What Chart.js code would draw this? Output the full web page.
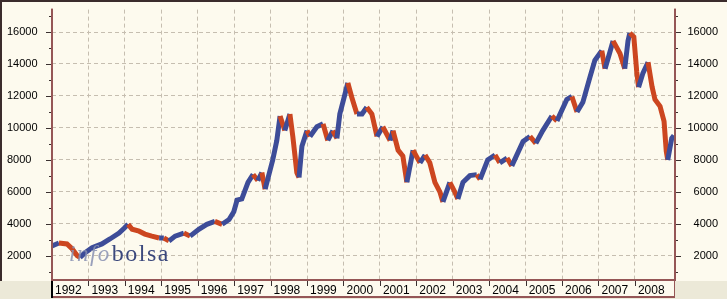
<!DOCTYPE html>
<html>
<head>
<meta charset="utf-8">
<script src="https://cdn.jsdelivr.net/npm/chart.js@4.4.0/dist/chart.umd.min.js"></script>
<style>
html, body { margin: 0; padding: 0; background: #ECE9D8; }
canvas { display: block; }
</style>
</head>
<body>
<canvas id="indexChart" width="727" height="299"></canvas>
<script>
// index level (year as decimal, close)
var dates = [
    1992.00, 1992.19, 1992.41, 1992.55, 1992.69, 1992.77, 1992.91,
    1993.10, 1993.37, 1993.59, 1993.84, 1993.98,
    1994.09, 1994.20, 1994.39, 1994.55, 1994.74, 1994.94,
    1995.07, 1995.21, 1995.38, 1995.62, 1995.79,
    1996.03, 1996.25, 1996.47, 1996.67, 1996.86, 1996.99,
    1997.08, 1997.21, 1997.38, 1997.52, 1997.65, 1997.76, 1997.85,
    1998.06, 1998.17, 1998.26, 1998.39, 1998.53, 1998.61, 1998.72, 1998.78, 1998.86,
    1999.00, 1999.08, 1999.27, 1999.44, 1999.57, 1999.71, 1999.82, 1999.90, 1999.99,
    2000.12, 2000.23, 2000.37, 2000.51, 2000.64, 2000.78, 2000.92,
    2001.08, 2001.28, 2001.36, 2001.50, 2001.63, 2001.74, 2001.91,
    2002.10, 2002.24, 2002.37, 2002.51, 2002.65, 2002.73, 2002.92,
    2003.06, 2003.14, 2003.28, 2003.47, 2003.66, 2003.75, 2003.96,
    2004.16, 2004.29, 2004.49, 2004.62, 2004.93,
    2005.12, 2005.28, 2005.47, 2005.72, 2005.86,
    2006.13, 2006.27, 2006.41, 2006.57, 2006.76, 2006.90,
    2007.09, 2007.18, 2007.31, 2007.40, 2007.59, 2007.72, 2007.81, 2007.86, 2007.97,
    2008.05, 2008.10, 2008.22, 2008.36, 2008.47, 2008.55, 2008.69, 2008.80, 2008.86, 2008.90, 2009.01, 2009.07
];
var closes = [
    2610, 2790, 2730, 2430, 2000, 1880, 2180,
    2490, 2730, 3040, 3410, 3710,
    3960, 3650, 3530, 3350, 3220, 3100,
    3100, 2920, 3220, 3410, 3220,
    3650, 3960, 4140, 3960, 4260, 4750,
    5480, 5550, 6590, 7080, 6700, 7200, 6160,
    8000, 9210, 10740, 9830, 10870, 9460, 7200, 6890, 8850,
    9830, 9460, 10070, 10250, 9210, 9830, 9340, 10870, 11660,
    12820, 11900, 10870, 10870, 11290, 10870, 9460,
    10070, 9210, 9830, 8600, 8240, 6590, 8600,
    7810, 8300, 7810, 6590, 5970, 5360, 6590,
    5970, 5550, 6590, 7010, 7070, 6770, 7990,
    8300, 7810, 8110, 7620, 9150,
    9460, 9030, 9830, 10740, 10440,
    11780, 11970, 10990, 11600, 13130, 14230,
    14840, 13700, 14720, 15450, 14660, 13700, 15450, 15940, 15700,
    13500, 12550, 13430, 14110, 12580, 11780, 11350, 10400, 8540, 7990, 9340, 9520
];
var years = [1992, 1993, 1994, 1995, 1996, 1997, 1998, 1999, 2000,
             2001, 2002, 2003, 2004, 2005, 2006, 2007, 2008];
var levelTicks = [2000, 4000, 6000, 8000, 10000, 12000, 14000, 16000];
var minorTicks = [1000, 3000, 5000, 7000, 9000, 11000, 13000, 15000, 17000];

var UP = '#3d4c98';
var DOWN = '#cc4620';
var AXIS = '#955656';
var GRID = '#c6beb0';
var CREAM = '#fdfaee';

var points = dates.map(function (d, i) { return {x: d, y: closes[i]}; });

var framePlugin = {
    id: 'frame',
    beforeDraw: function (chart) {
        var c = chart.ctx, a = chart.chartArea;
        c.save();
        c.fillStyle = '#ECE9D8';
        c.fillRect(0, 0, chart.width, chart.height);
        c.fillStyle = CREAM;
        c.fillRect(0, 0, chart.width, a.bottom + 1);
        c.fillRect(a.left, a.bottom, a.right - a.left, 17);
        c.restore();
    },
    afterDatasetsDraw: function (chart) {
        var c = chart.ctx;
        c.save();
        c.textBaseline = 'alphabetic';
        c.font = 'italic 23px "Liberation Serif"';
        c.fillStyle = 'rgba(135,143,178,0.85)';
        c.letterSpacing = '1.5px';
        c.fillText('info', 69, 261);
        var w = c.measureText('info').width;
        c.font = '24px "Liberation Serif"';
        c.fillStyle = 'rgba(48,62,118,0.95)';
        c.letterSpacing = '1.5px';
        c.fillText('bolsa', 69 + w + 1, 261);
        c.restore();
    },
    afterDraw: function (chart) {
        var c = chart.ctx, a = chart.chartArea;
        var y = chart.scales.yLeft, x = chart.scales.x;
        c.save();
        // outer dark border
        c.fillStyle = '#3b2c2c';
        c.fillRect(0, 0, chart.width, 2);
        c.fillRect(0, 0, 2, a.bottom + 1);
        // axis lines
        c.fillStyle = AXIS;
        c.fillRect(a.left - 1, a.top - 1, 2, a.bottom - a.top + 2);
        c.fillRect(a.right - 1, a.top - 1, 2, a.bottom - a.top + 2);
        c.fillRect(a.left, a.bottom - 1, a.right - a.left, 2);
        c.fillRect(a.left, a.bottom + 16, a.right - a.left, 2);
        c.fillRect(a.right - 1, a.bottom, 1, 18);
        c.fillStyle = '#000';
        c.fillRect(a.left - 1, a.bottom + 1, 2, 17);
        // tick marks
        c.fillStyle = '#3a3030';
        levelTicks.forEach(function (v) {
            var p = Math.round(y.getPixelForValue(v));
            c.fillRect(a.left - 6, p, 5, 1);
            c.fillRect(a.right + 1, p, 5, 1);
        });
        minorTicks.forEach(function (v) {
            var p = Math.round(y.getPixelForValue(v));
            c.fillRect(a.left - 3, p, 2, 1);
            c.fillRect(a.right + 1, p, 2, 1);
        });
        years.forEach(function (yr, i) {
            if (i === 0) return;
            var p = Math.round(x.getPixelForValue(yr));
            c.fillRect(p, a.bottom + 1, 1, 5);
        });
        c.restore();
    }
};

new Chart(document.getElementById('indexChart'), {
    type: 'line',
    data: {
        datasets: [{
            data: points,
            xAxisID: 'x',
            yAxisID: 'yLeft',
            borderWidth: 5,
            pointRadius: 0,
            tension: 0,
            borderJoinStyle: 'miter',
            borderColor: UP,
            segment: {
                borderColor: function (ctx) {
                    return ctx.p1.parsed.y >= ctx.p0.parsed.y ? UP : DOWN;
                }
            }
        }]
    },
    options: {
        responsive: false,
        animation: false,
        layout: {padding: {top: 3, left: 7, right: 9, bottom: 0}},
        plugins: {legend: {display: false}, tooltip: {enabled: false}},
        scales: {
            x: {
                type: 'linear',
                min: 1992,
                max: 2009.1,
                afterBuildTicks: function (axis) {
                    axis.ticks = years.map(function (v) { return {value: v}; });
                },
                afterFit: function (axis) { axis.height = 19; },
                grid: {
                    drawTicks: false,
                    color: function (ctx) { return ctx.index === 0 ? 'rgba(0,0,0,0)' : GRID; }
                },
                border: {display: false, dash: [4, 3]},
                ticks: {
                    align: 'start',
                    labelOffset: 3,
                    padding: 3,
                    maxRotation: 0,
                    autoSkip: false,
                    color: '#000',
                    font: {family: 'Liberation Sans', size: 12},
                    callback: function (v) { return String(v); }
                }
            },
            yLeft: {
                type: 'linear',
                position: 'left',
                min: 472,
                max: 17406,
                afterBuildTicks: function (axis) {
                    axis.ticks = levelTicks.map(function (v) { return {value: v}; });
                },
                afterFit: function (axis) { axis.width = 45; },
                grid: {drawTicks: false, color: GRID},
                border: {display: false, dash: [4, 3]},
                ticks: {
                    crossAlign: 'far',
                    color: '#000',
                    font: {family: 'Liberation Sans', size: 11},
                    callback: function (v) { return String(v); }
                }
            },
            yRight: {
                type: 'linear',
                position: 'right',
                min: 472,
                max: 17406,
                afterBuildTicks: function (axis) {
                    axis.ticks = levelTicks.map(function (v) { return {value: v}; });
                },
                afterFit: function (axis) { axis.width = 43; },
                grid: {display: false, drawTicks: false},
                border: {display: false},
                ticks: {
                    crossAlign: 'far',
                    color: '#000',
                    font: {family: 'Liberation Sans', size: 11},
                    callback: function (v) { return String(v); }
                }
            }
        }
    },
    plugins: [framePlugin]
});
</script>
</body>
</html>
